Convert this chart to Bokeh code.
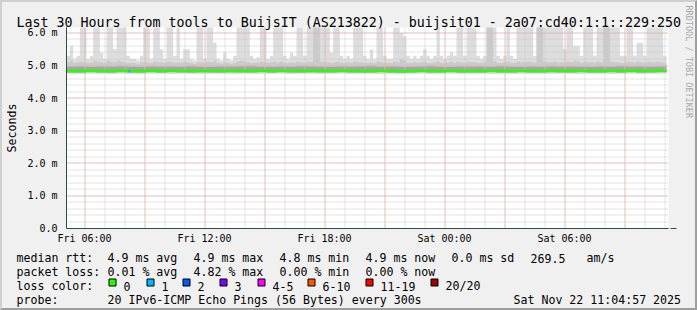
import numpy as np
from bokeh.plotting import figure
from bokeh.layouts import column
from bokeh.models import Range1d, FixedTicker, Arrow, NormalHead, Title
from bokeh.core.properties import value
from bokeh.embed import file_html
from bokeh.resources import INLINE

# ---------------- data ----------------
T0 = 5.1            # start of graph: Fri 05:06 (hours since Fri 00:00)
BIN_FINE = 1 / 6    # 10 minute bins
BIN_COARSE = 0.5    # 30 minute bins

# highest ping per 10-min bin (ms)
smoke_max = [
    5.3, 5.6, 5.2, 5.3, 6.5, 6.5, 5.2, 5.3, 6.5, 6.5, 5.4, 5.2, 6.5, 6.5, 5.5, 6.5, 6.5, 6.5, 5.3, 5.2,
    5.2, 5.15, 5.3, 6.5, 6.5, 5.2, 6.5, 6.5, 5.5, 5.2, 6.5, 6.5, 5.3, 6.5, 5.2, 5.5, 5.5, 5.2, 5.15, 6.5,
    6.5, 5.2, 6.5, 6.5, 5.7, 5.2, 5.15, 5.4, 5.2, 5.15, 5.3, 6.5, 6.5, 6.5, 6.5, 5.3, 5.2, 5.25, 6.5, 6.5,
    5.2, 5.3, 6.5, 6.5, 6.5, 5.3, 5.2, 5.4, 5.3, 6.5, 6.5, 5.3, 6.5, 6.5, 6.5, 6.5, 6.5, 6.5, 6.5, 5.4,
    6.5, 6.5, 5.3, 5.2, 5.3, 5.2, 6.5, 6.5, 6.5, 5.3, 5.2, 5.5, 5.2, 6.5, 6.5, 5.3, 5.2, 5.2, 6.5, 6.5,
    6.0, 5.9, 5.3, 5.2, 5.3, 5.2, 5.3, 5.5, 5.3, 5.2, 5.3, 6.5, 5.3, 5.2, 5.3, 5.4, 5.3, 6.5, 6.5, 5.3,
    6.5, 6.5, 6.5, 5.3, 5.2, 5.3, 6.5, 6.5, 6.5, 5.3, 5.2, 5.3, 6.5, 5.3, 5.2, 6.5, 6.5, 6.5, 6.5, 6.5,
    5.3, 6.5, 6.5, 6.5, 6.5, 6.5, 6.5, 6.5, 6.5, 5.5, 6.5, 6.5, 5.6, 5.6, 5.3, 6.5, 6.5, 6.5, 5.3, 6.5,
    6.5, 6.5, 6.5, 6.5, 6.5, 6.5, 5.3, 5.3, 6.5, 6.5, 5.3, 5.7, 5.7, 5.3, 6.5, 6.5, 6.5, 6.5, 6.5, 5.3,
]
# second highest ping per 10-min bin (ms)
smoke_p2 = [
    5.10, 5.15, 5.08, 5.10, 5.12, 5.10, 5.08, 5.10, 5.15, 5.12, 5.10, 5.08, 5.15, 5.12, 5.10, 5.15, 5.12, 5.10, 5.08, 5.08,
    5.08, 5.05, 5.10, 5.12, 5.10, 5.08, 5.12, 5.10, 5.10, 5.08, 5.12, 5.10, 5.08, 5.10, 5.08, 5.12, 5.10, 5.08, 5.05, 5.10,
    5.10, 5.08, 5.12, 5.10, 5.15, 5.08, 5.05, 5.10, 5.08, 5.05, 5.08, 5.12, 5.15, 5.12, 5.10, 5.08, 5.08, 5.10, 5.12, 5.10,
    5.08, 5.10, 5.12, 5.10, 5.12, 5.08, 5.08, 5.10, 5.08, 5.12, 5.10, 5.08, 5.12, 5.10, 6.5, 6.5, 5.12, 5.10, 5.10, 5.08,
    5.10, 5.12, 5.08, 5.08, 5.10, 5.08, 5.12, 5.10, 5.10, 5.08, 5.08, 5.10, 5.08, 5.12, 5.10, 5.08, 5.08, 5.08, 5.12, 5.10,
    5.20, 5.15, 5.08, 5.08, 5.10, 5.08, 5.10, 5.12, 5.08, 5.08, 5.10, 5.12, 5.08, 5.08, 5.10, 5.12, 5.08, 5.12, 5.10, 5.08,
    5.12, 5.10, 5.10, 5.08, 5.08, 5.10, 6.5, 6.5, 5.12, 5.08, 5.08, 5.10, 5.12, 5.08, 5.08, 5.12, 5.10, 5.10, 5.12, 5.10,
    5.08, 6.5, 6.5, 5.12, 5.10, 5.10, 5.12, 5.10, 5.10, 5.08, 5.12, 5.10, 5.15, 5.12, 5.08, 5.12, 5.10, 5.10, 5.08, 5.12,
    5.10, 6.5, 6.5, 5.12, 5.10, 5.10, 5.08, 5.08, 5.12, 5.10, 5.08, 5.12, 5.10, 5.08, 5.12, 5.10, 5.10, 5.12, 5.10, 5.08,
]
# 30-min bins
median_rtt = [
    4.83, 4.83, 4.84, 4.83, 4.83, 4.84, 4.83, 4.83, 4.84, 4.83,
    4.84, 4.84, 4.83, 4.83, 4.84, 4.83, 4.83, 4.84, 4.83, 4.84,
    4.83, 4.84, 4.84, 4.83, 4.83, 4.84, 4.83, 4.84, 4.84, 4.83,
    4.83, 4.84, 4.83, 4.82, 4.83, 4.84, 4.83, 4.83, 4.84, 4.83,
    4.83, 4.83, 4.84, 4.83, 4.83, 4.84, 4.83, 4.83, 4.84, 4.84,
    4.83, 4.84, 4.83, 4.83, 4.84, 4.83, 4.84, 4.83, 4.84, 4.84,
]
smoke_min = [
    4.75, 4.74, 4.75, 4.75, 4.74, 4.75, 4.75, 4.74, 4.75, 4.75,
    4.74, 4.75, 4.75, 4.74, 4.75, 4.75, 4.74, 4.75, 4.75, 4.74,
    4.75, 4.75, 4.74, 4.75, 4.75, 4.74, 4.75, 4.75, 4.74, 4.75,
    4.75, 4.74, 4.75, 4.74, 4.75, 4.75, 4.74, 4.75, 4.75, 4.74,
    4.75, 4.75, 4.74, 4.75, 4.75, 4.74, 4.75, 4.75, 4.74, 4.75,
    4.75, 4.74, 4.75, 4.75, 4.74, 4.75, 4.75, 4.74, 4.75, 4.75,
]
band_lo = [
    4.78, 4.78, 4.79, 4.78, 4.78, 4.79, 4.78, 4.78, 4.79, 4.78,
    4.79, 4.78, 4.78, 4.79, 4.78, 4.78, 4.79, 4.78, 4.78, 4.79,
    4.78, 4.79, 4.78, 4.78, 4.79, 4.78, 4.78, 4.79, 4.78, 4.78,
    4.78, 4.79, 4.78, 4.77, 4.78, 4.79, 4.78, 4.78, 4.79, 4.78,
    4.78, 4.78, 4.79, 4.78, 4.78, 4.79, 4.78, 4.78, 4.79, 4.78,
    4.78, 4.79, 4.78, 4.78, 4.79, 4.78, 4.79, 4.78, 4.78, 4.79,
]
band_hi = [
    4.97, 4.98, 4.96, 4.98, 4.97, 4.99, 4.97, 4.96, 4.98, 4.97,
    4.98, 4.97, 4.99, 4.97, 4.96, 4.98, 4.97, 4.98, 4.99, 4.97,
    4.96, 4.98, 4.97, 4.99, 4.98, 4.97, 4.96, 4.98, 4.97, 4.98,
    4.99, 4.97, 4.98, 4.96, 4.97, 4.98, 4.99, 4.97, 4.96, 4.98,
    4.97, 4.98, 4.97, 4.99, 4.97, 4.96, 4.98, 4.97, 4.98, 4.97,
    4.98, 4.97, 4.96, 4.98, 4.97, 4.99, 4.97, 4.98, 4.97, 4.98,
]
loss_hours = [8.2]       # sample with packet loss
loss_pings = [1]         # lost pings in that sample
SAMPLE_H = 1 / 12        # 300 s step

x_ticks = [6, 12, 18, 24, 30]
x_tick_labels = ["Fri 06:00", "Fri 12:00", "Fri 18:00", "Sat 00:00", "Sat 06:00"]
x_major_grid = [6, 9, 12, 15, 18, 21, 24, 27, 30, 33]
x_minor_grid = list(range(6, 36))
y_ticks = [0, 1, 2, 3, 4, 5, 6]
y_tick_labels = ["0.0", "1.0 m", "2.0 m", "3.0 m", "4.0 m", "5.0 m", "6.0 m"]
y_minor_grid = [round(0.2 * i, 1) for i in range(1, 31)]

title_text = "Last 30 Hours from tools to BuijsIT (AS213822) - buijsit01 - 2a07:cd40:1:1::229:250"
y_title = "Seconds"
credit = "RRDTOOL / TOBI OETIKER"
loss_labels = ["0", "1", "2", "3", "4-5", "6-10", "11-19", "20/20"]
loss_colors = ["#26ff00", "#00b8ff", "#0059ff", "#7e00ff", "#ff00ff", "#ff5500", "#ff0000", "#a10000"]
rtt_row = ["median rtt:", "4.9 ms avg", "4.9 ms max", "4.8 ms min", "4.9 ms now", "0.0 ms sd", "269.5", "am/s"]
loss_row = ["packet loss:", "0.01 % avg", "4.82 % max", "0.00 % min", "0.00 % now"]
probe_row = ["probe:", "20 IPv6-ICMP Echo Pings (56 Bytes) every 300s", "Sat Nov 22 11:04:57 2025"]

# ---------------- layout (pixels, outer image coords) ----------------
W, H, BW = 697, 310, 2           # image size, shade border width
IW = W - 2 * BW                  # inner width
SPLIT = 248                      # outer y where legend block starts
FL, FR, FT, FB = 66, 668, 27, 228
PXH = 20.0     # px per hour
PXM = 32.6     # px per ms
X_END = T0 + (FR - FL) / PXH
Y_TOP = (FB - FT) / PXM


def X(px):   # outer px -> hours
    return T0 + (px - FL) / PXH


def Y(py):   # outer px -> ms
    return (FB - py) / PXM


def snap_x(v):   # centre 1px lines on a pixel
    px = FL + (v - T0) * PXH
    return X(np.floor(px) + 0.5)


def snap_y(v):
    py = FB - v * PXM
    return Y(np.floor(py) + 0.5)


MONO = "DejaVu Sans Mono"
BACK = "#f0f0f0"
AXIS_C = "#2c4d43"
ARROW_C = "#9b0000"
GRID_C = "#c8c8c8"
MGRID_C = "#f0a8a8"

pa = figure(width=IW, height=SPLIT - BW, output_backend="svg", toolbar_location=None, title=None,
            x_range=Range1d(T0, X_END), y_range=Range1d(0, Y_TOP),
            min_border_left=FL - BW, min_border_right=W - BW - FR, min_border_top=FT - BW,
            min_border_bottom=SPLIT - FB,
            background_fill_color="#ffffff", border_fill_color=BACK, outline_line_color=None)
pa.frame_align = False


def ext(a):
    a = np.asarray(a, dtype=float)
    return np.append(a, a[-1])


tf = T0 + np.arange(len(smoke_max) + 1) * BIN_FINE
tc = T0 + np.arange(len(median_rtt) + 1) * BIN_COARSE
pa.varea_step(x=tf, y1=ext(np.repeat(smoke_min, 3)), y2=ext(smoke_max), step_mode="after",
              fill_color="#dddddd")
pa.varea_step(x=tf, y1=ext(np.repeat(band_lo, 3)), y2=ext(smoke_p2), step_mode="after",
              fill_color="#cacaca")
pa.varea_step(x=tc, y1=ext(band_lo), y2=ext(band_hi), step_mode="after", fill_color="#a6a6a6")

# dotted grid drawn over the smoke
gx = [snap_x(v) for v in x_minor_grid]
gy = [snap_y(v) for v in y_minor_grid]
pa.segment(x0=gx, x1=gx, y0=0, y1=Y_TOP, line_color=GRID_C, line_width=1, line_dash="1 1")
pa.segment(x0=T0, x1=X_END, y0=gy, y1=gy, line_color=GRID_C, line_width=1, line_dash="1 1")
mx = [snap_x(v) for v in x_major_grid]
my = [snap_y(v) for v in y_ticks[1:]]
pa.segment(x0=mx, x1=mx, y0=0, y1=Y_TOP, line_color=MGRID_C, line_width=1, line_dash="1 1")
pa.segment(x0=T0, x1=X_END, y0=my, y1=my, line_color=MGRID_C, line_width=1, line_dash="1 1")

# median line, coloured by loss
pa.step(x=tc, y=ext(median_rtt), mode="after", line_color=loss_colors[0], line_width=2.5)
loss_idx = [int((h - T0) / BIN_COARSE) for h in loss_hours]
loss_y = [median_rtt[i] for i in loss_idx]
pa.segment(x0=loss_hours, y0=loss_y, x1=[h + SAMPLE_H for h in loss_hours], y1=loss_y,
           line_color=[loss_colors[n] for n in loss_pings], line_width=2.5)

# axes
pa.xgrid.grid_line_color = None
pa.ygrid.grid_line_color = None
xa = pa.xaxis[0]
xa.ticker = FixedTicker(ticks=x_ticks)
xa.major_label_overrides = dict(zip(x_ticks, x_tick_labels))
ya = pa.yaxis[0]
ya.ticker = FixedTicker(ticks=y_ticks)
ya.major_label_overrides = dict(zip(y_ticks, y_tick_labels))
for ax in (xa, ya):
    ax.axis_line_color = AXIS_C
    ax.axis_line_width = 1
    ax.major_tick_line_color = None
    ax.minor_tick_line_color = None
    ax.major_tick_out = 0
    ax.major_tick_in = 0
    ax.major_label_text_font = MONO
    ax.major_label_text_font_size = "10px"
    ax.major_label_text_color = "#000000"
xa.major_label_standoff = 4
ya.major_label_standoff = 9
ya.axis_label = y_title
ya.axis_label_text_font = MONO
ya.axis_label_text_font_size = "11.6px"
ya.axis_label_text_font_style = "normal"
ya.axis_label_text_color = "#000000"
ya.axis_label_standoff = 5

# arrows at the axis ends
pa.add_layout(Arrow(end=NormalHead(size=6, fill_color=ARROW_C, line_color=ARROW_C, line_width=1),
                    x_start=X(FL), y_start=Y(FT + 2), x_end=X(FL), y_end=Y(20),
                    line_color=AXIS_C, line_width=1))
pa.add_layout(Arrow(end=NormalHead(size=6, fill_color=ARROW_C, line_color=ARROW_C, line_width=1),
                    x_start=X(FR - 2), y_start=0, x_end=X(676), y_end=0,
                    line_color=AXIS_C, line_width=1))

# title and credit (a blank spacer title pushes the credit to the outer edge)
pa.add_layout(Title(text=title_text, align="left", offset=16 - FL, vertical_align="bottom", standoff=-4.5,
                    text_font=MONO, text_font_size="13.3px", text_font_style="normal",
                    text_color="#000000"), "above")
pa.add_layout(Title(text=" ", text_font_size="1px", standoff=9), "right")
pa.add_layout(Title(text=credit, align="left", offset=5 - FT, vertical_align="top", standoff=2,
                    text_font=MONO, text_font_size="8.5px", text_font_style="normal",
                    text_color="#a8a8a8"), "right")

# ---------------- legend block ----------------
LH = H - BW - SPLIT
pb = figure(width=IW, height=LH, output_backend="svg", toolbar_location=None, title=None,
            x_range=Range1d(BW, W - BW), y_range=Range1d(H - BW, SPLIT),
            min_border=0, x_axis_type=None, y_axis_type=None,
            background_fill_color=BACK, border_fill_color=BACK, outline_line_color=None)
pb.frame_align = False
pb.xgrid.grid_line_color = None
pb.ygrid.grid_line_color = None

col_x = [16, 107, 193, 279, 365, 451, 530, 586]
row_y = [257.5, 271.5, 285.5, 299.5]
txt_x, txt_y, txt = [], [], []
for cx, t in zip(col_x, rtt_row):
    txt_x.append(cx); txt_y.append(row_y[0]); txt.append(t)
for cx, t in zip(col_x, loss_row):
    txt_x.append(cx); txt_y.append(row_y[1]); txt.append(t)
txt_x.append(16); txt_y.append(row_y[2]); txt.append("loss color:")
box_x = [108, 146, 182, 219, 257, 307, 365, 430]
for bx, lab in zip(box_x, loss_labels):
    txt_x.append(bx + 15); txt_y.append(row_y[2]); txt.append(lab)
for cx, t in zip([16, 107, 513], probe_row):
    txt_x.append(cx); txt_y.append(row_y[3]); txt.append(t)
pb.text(x=txt_x, y=txt_y, text=txt, text_font=value(MONO), text_font_size=value("11.6px"),
        text_color="#000000", text_align="left", text_baseline="alphabetic")
pb.quad(left=[b + 0.5 for b in box_x], right=[b + 7.5 for b in box_x],
        top=[278.5] * len(box_x), bottom=[285.5] * len(box_x),
        fill_color=loss_colors, line_color="#000000", line_width=1)

layout = column(pa, pb, spacing=0,
                styles={"border-style": "solid", "border-width": f"{BW}px",
                        "border-color": "#cfcfcf #9e9e9e #9e9e9e #cfcfcf",
                        "background-color": BACK})

open("out.html", "w").write(file_html(layout, INLINE))
